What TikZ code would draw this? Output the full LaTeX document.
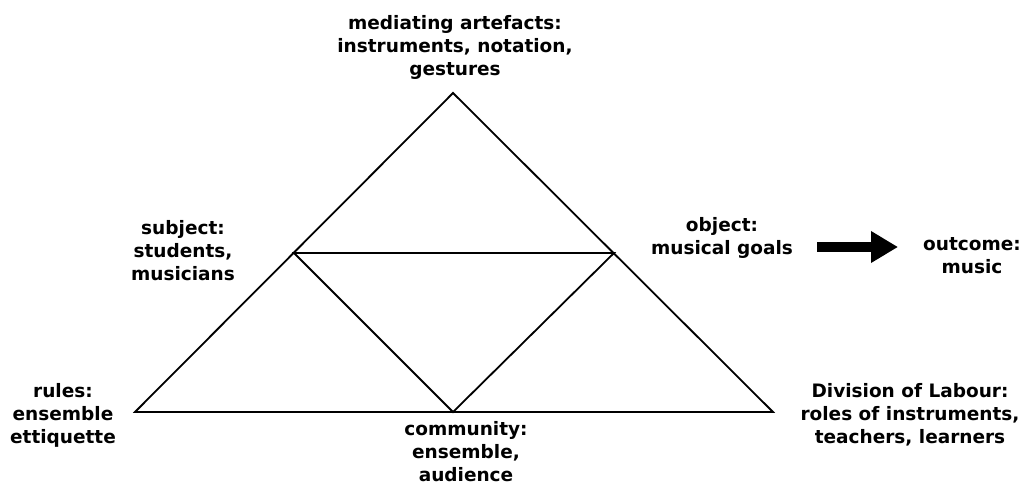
\documentclass[tikz,border=0pt]{standalone}
\usepackage{fontspec}
\setmainfont{DejaVu Sans}
\usetikzlibrary{positioning, arrows.meta}

\begin{document}
\begin{tikzpicture}[x=1pt, y=-1pt, thick,
    lbl/.style={align=center, font=\bfseries\fontsize{18.5}{23}\selectfont, inner sep=0pt},
    side/.style={line width=1.8pt, line join=miter},
    fatarrow/.style={line width=10pt, -{Triangle[length=27pt, width=30pt]}}]
    \useasboundingbox (0,0) rectangle (1030,487);

    % Points
    \coordinate (T) at (453,93);  % apex
    \coordinate (L) at (135,412);
    \coordinate (R) at (773,412);
    \coordinate (S) at (294,253); % subject
    \coordinate (O) at (614,253); % object
    \coordinate (C) at (453,412); % community

    % Triangles
    \draw[side] (T) -- (L) -- (R) -- cycle;
    \draw[side] (S) -- (O) -- (C) -- cycle;

    % Labels
    \node[lbl] (artefacts) at (455,47) {mediating artefacts:\\instruments, notation,\\gestures};
    \node[lbl] (subject) at (183,251) {subject:\\students,\\musicians};
    \node[lbl] (object) at (722,238) {object:\\musical goals};
    \node[lbl] (outcome) at (972,256) {outcome:\\music};
    \node[lbl] (rules) at (63,415) {rules:\\ensemble\\ettiquette};
    \node[lbl] (labour) at (910,415) {Division of Labour:\\roles of instruments,\\teachers, learners};
    \node[lbl] (community) at (466,452) {community:\\ensemble,\\audience};

    % Arrow to outcome
    \coordinate (aS) at (817,247);
    \coordinate (aE) at (898,247);
    \draw[fatarrow] (aS) -- (aE);
\end{tikzpicture}
\end{document}
